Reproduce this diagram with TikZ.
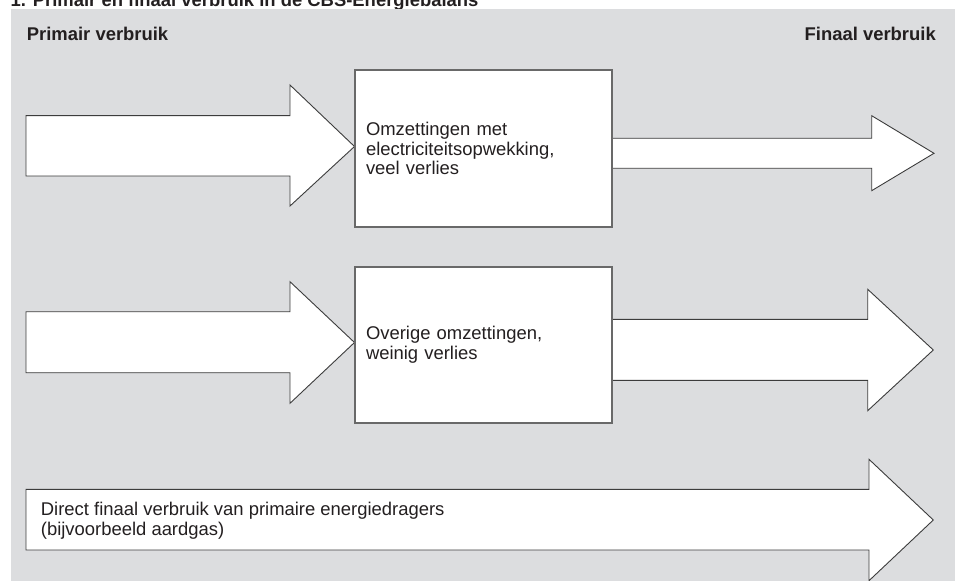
\documentclass[tikz,border=0pt]{standalone}
\usepackage{fontspec}
\setmainfont{Liberation Sans}
\definecolor{bggray}{RGB}{220,221,223}
\definecolor{txt}{RGB}{35,31,32}
\definecolor{arrline}{RGB}{60,60,60}
\definecolor{boxline}{RGB}{105,105,105}
\begin{document}
\begin{tikzpicture}[x=1bp,y=-1bp,
  font=\fontsize{18.5}{19.8}\selectfont,
  bigarrow/.style={draw=arrline, line width=0.9bp, fill=white, line join=miter},
  procbox/.style={draw=boxline, line width=1.4bp, fill=white, minimum width=257bp,
    inner xsep=11bp, inner ysep=0pt, text width=235bp, align=left, text=txt},
  hdr/.style={font=\fontsize{18.5}{19.8}\selectfont\bfseries, text=txt, inner sep=0pt}]
\useasboundingbox (0,0) rectangle (955,581);
% title (clipped at top)
\node[hdr, anchor=base west] (title) at (10.5,6.7) {1. Primair en finaal verbruik in de CBS-Energiebalans};
% background
\fill[bggray] (11,9.5) rectangle (955,581);
% headers
\node[hdr, anchor=base west] (prim) at (26.7,40.5) {Primair verbruik};
\node[hdr, anchor=base east] (fin) at (936,40.5) {Finaal verbruik};
% arrows into boxes
\draw[bigarrow] (26,115.7) -- (290,115.7) -- (290,85) -- (354.5,146.5) -- (290,206) -- (290,176) -- (26,176) -- cycle;
\draw[bigarrow] (26,311.7) -- (290,311.7) -- (290,281.7) -- (354.5,342.5) -- (290,403.3) -- (290,372.7) -- (26,372.7) -- cycle;
% arrows out of boxes
\draw[bigarrow] (612,138.3) -- (871.7,138.3) -- (871.7,115.7) -- (934,153.3) -- (871.7,190.7) -- (871.7,168.3) -- (612,168.3) -- cycle;
\draw[bigarrow] (612,319.3) -- (867.7,319.3) -- (867.7,289.3) -- (933.3,350) -- (867.7,410.7) -- (867.7,380.3) -- (612,380.3) -- cycle;
% direct arrow
\draw[bigarrow] (26,489.3) -- (869,489.3) -- (869,459.3) -- (933.3,520) -- (869,580.7) -- (869,550) -- (26,550) -- cycle;
% boxes
\node[procbox, minimum height=157bp] (b1) at (483.5,148.5) {Omzettingen met\\electriciteitsopwekking,\\veel verlies};
\node[procbox, minimum height=156.3bp] (b2) at (483.5,345) {Overige omzettingen,\\weinig verlies};
% direct text
\node[anchor=west, align=left, inner sep=0pt, text=txt] (direct) at (40.7,521) {Direct finaal verbruik van primaire energiedragers\\(bijvoorbeeld aardgas)};
\end{tikzpicture}
\end{document}
